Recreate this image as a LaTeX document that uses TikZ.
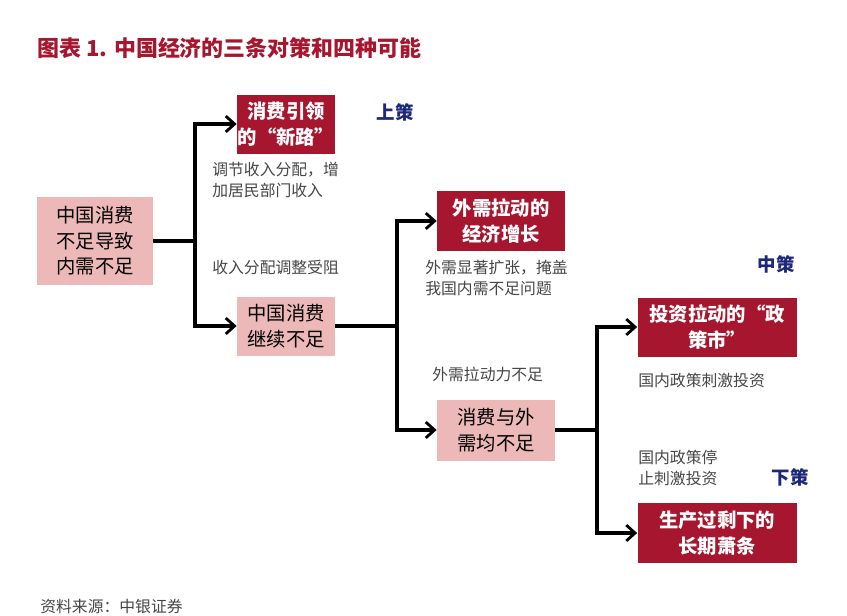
\documentclass[tikz,border=0pt]{standalone}
\usepackage{fontspec}
\setmainfont{Noto Sans CJK SC}
\usetikzlibrary{arrows.meta, positioning}
\definecolor{deep-red}{RGB}{166, 22, 46}
\definecolor{soft-red}{RGB}{236, 184, 184}
\definecolor{note-grey}{RGB}{70, 70, 70}
\definecolor{level-blue}{RGB}{30, 40, 120}

\begin{document}
\begin{tikzpicture}[
      x=0.02cm, y=-0.02cm,
      nodes={inner sep=0pt, align=center, font=\fontsize{11}{14.5}\selectfont},
      dark/.style={fill=deep-red, text=white, font=\bfseries\fontsize{11}{14.5}\selectfont},
      light/.style={fill=soft-red, text=black},
      note/.style={text=note-grey, anchor=north west, align=left, font=\fontsize{9}{12}\selectfont},
      level/.style={text=level-blue, font=\bfseries\fontsize{10.5}{12}\selectfont},
      link/.style={line width=1.8pt, -{Straight Barb[length=5pt, width=9pt, line width=1.6pt]}}
    ]
      \useasboundingbox (0,0) rectangle (847,615);
      % Title
      \node (title) at (37,48) [anchor=west, text=deep-red, font=\bfseries\fontsize{12.5}{14}\selectfont]
        {图表 1. 中国经济的三条对策和四种可能};
      % Boxes
      \node (root) at (95,241) [light, minimum width=116*0.02cm, minimum height=88*0.02cm] {中国消费\\不足导致\\内需不足};
      \node (newroad) at (286,124) [dark, minimum width=98*0.02cm, minimum height=59*0.02cm] {消费引领\\的“新路”};
      \node (weak) at (286,326) [light, minimum width=98*0.02cm, minimum height=59*0.02cm] {中国消费\\继续不足};
      \node (export) at (501,221) [dark, minimum width=128*0.02cm, minimum height=60*0.02cm] {外需拉动的\\经济增长};
      \node (both) at (496,430) [light, minimum width=118*0.02cm, minimum height=61*0.02cm] {消费与外\\需均不足};
      \node (invest) at (717,327) [dark, minimum width=159*0.02cm, minimum height=59*0.02cm] {投资拉动的“政\\策市”};
      \node (slump) at (717,533) [dark, minimum width=159*0.02cm, minimum height=60*0.02cm] {生产过剩下的\\长期萧条};
      % Levels
      \node (top) at (395,112) [level] {上策};
      \node (mid) at (776,264) [level] {中策};
      \node (low) at (790,477) [level] {下策};
      % Notes
      \node (n1) at (212,162) [note] {调节收入分配，增\\加居民部门收入};
      \node (n2) at (212,260) [note] {收入分配调整受阻};
      \node (n3) at (425,260) [note] {外需显著扩张，掩盖\\我国内需不足问题};
      \node (n4) at (432,367) [note] {外需拉动力不足};
      \node (n5) at (638,373) [note] {国内政策刺激投资};
      \node (n6) at (638,450) [note] {国内政策停\\止刺激投资};
      \node (src) at (40,606) [anchor=west, text=note-grey, font=\fontsize{9}{10}\selectfont]
        {资料来源：中银证券};
      % Branches
      \coordinate (j1) at (195,241);
      \coordinate (j2) at (397,326);
      \coordinate (j3) at (597,430);
      \draw [line width=1.8pt] (root.east) -- (j1);
      \draw [link] (j1) |- (newroad.west);
      \draw [link] (j1) |- (weak.west);
      \draw [line width=1.8pt] (weak.east) -- (j2);
      \draw [link] (j2) |- (export.west);
      \draw [link] (j2) |- (both.west);
      \draw [line width=1.8pt] (both.east) -- (j3);
      \draw [link] (j3) |- (invest.west);
      \draw [link] (j3) |- (slump.west);
    \end{tikzpicture}
\end{document}
